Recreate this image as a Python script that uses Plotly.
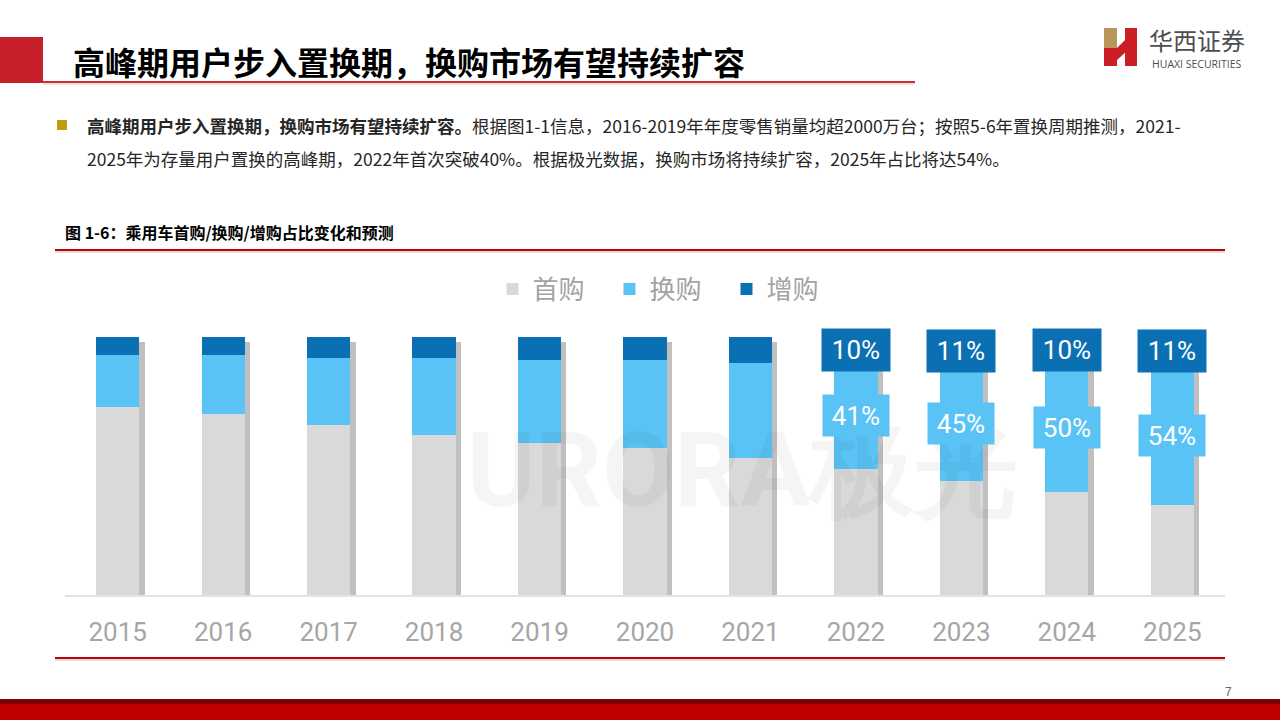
import plotly.graph_objects as go

# ---------------- data ----------------
years = ["2015", "2016", "2017", "2018", "2019", "2020", "2021", "2022", "2023", "2024", "2025"]
first_buy = [73, 70, 66, 62, 59, 57, 53, 49, 44, 40, 35]      # 首购 (%)
replace_buy = [20, 23, 26, 30, 32, 34, 37, 41, 45, 50, 54]    # 换购 (%)
add_buy = [7, 7, 8, 8, 9, 9, 10, 10, 11, 10, 11]              # 增购 (%)
labeled_years = ["2022", "2023", "2024", "2025"]
series_names = ["首购", "换购", "增购"]

title_text = "高峰期用户步入置换期，换购市场有望持续扩容"
bullet_bold = "高峰期用户步入置换期，换购市场有望持续扩容。"
bullet_rest1 = "根据图1-1信息，2016-2019年年度零售销量均超2000万台；按照5-6年置换周期推测，2021-"
bullet_line2 = "2025年为存量用户置换的高峰期，2022年首次突破40%。根据极光数据，换购市场将持续扩容，2025年占比将达54%。"
caption_text = "图 1-6：乘用车首购/换购/增购占比变化和预测"

# ---------------- styles ----------------
C_FIRST = "#d9d9d9"
C_REPL = "#5ac3f5"
C_ADD = "#0b70b3"
C_SHADOW = "#c0c0c0"
RED = "#c00000"
W, H = 1280, 720
BAR_W = 0.41
CJK = "Noto Sans CJK SC"


def px(x):
    return x / W


def py(y):
    return 1 - y / H


base_replace = first_buy
base_add = [a + b for a, b in zip(first_buy, replace_buy)]
totals = [a + b + c for a, b, c in zip(first_buy, replace_buy, add_buy)]
idx = list(range(len(years)))

fig = go.Figure()
# bar shadow strip
fig.add_trace(go.Bar(x=idx, y=[t - 2 for t in totals], base=[0] * len(years), width=0.05,
                     offset=BAR_W / 2, marker=dict(color=C_SHADOW, line=dict(width=0)),
                     showlegend=False, hoverinfo="skip"))
fig.add_trace(go.Bar(x=idx, y=first_buy, base=[0] * len(years), name=series_names[0],
                     width=BAR_W, offset=-BAR_W / 2, marker=dict(color=C_FIRST, line=dict(width=0))))
fig.add_trace(go.Bar(x=idx, y=replace_buy, base=base_replace, name=series_names[1],
                     width=BAR_W, offset=-BAR_W / 2, marker=dict(color=C_REPL, line=dict(width=0))))
fig.add_trace(go.Bar(x=idx, y=add_buy, base=base_add, name=series_names[2],
                     width=BAR_W, offset=-BAR_W / 2, marker=dict(color=C_ADD, line=dict(width=0))))

annotations = []
# watermark
annotations.append(dict(x=px(742), y=py(470), xref="paper", yref="paper", text="<b>URORA极光</b>",
                        xanchor="center", yanchor="middle", showarrow=False,
                        font=dict(family="Roboto", size=104, color="rgba(0,0,0,0.04)")))
# data labels on forecast years
for i, yr in enumerate(years):
    if yr in labeled_years:
        annotations.append(dict(x=i, y=base_add[i] + add_buy[i] / 2, xref="x", yref="y",
                                text=f"{add_buy[i]}%", showarrow=False, xanchor="center", yanchor="middle",
                                font=dict(family="Roboto", size=26, color="white"),
                                bgcolor=C_ADD, width=58, height=32, borderpad=5))
        annotations.append(dict(x=i, y=base_replace[i] + replace_buy[i] / 2, xref="x", yref="y",
                                text=f"{replace_buy[i]}%", showarrow=False, xanchor="center", yanchor="middle",
                                font=dict(family="Roboto", size=26, color="white"),
                                bgcolor=C_REPL, width=56, height=31, borderpad=5))

# slide texts
texts = [
    dict(x=px(72), y=py(61), text=f"<b>{title_text}</b>", font=dict(family=CJK, size=32, color="#000000")),
    dict(x=px(86), y=py(125), text=f"<b>{bullet_bold}</b>{bullet_rest1}",
         font=dict(family=CJK, size=17.5, color="#262626")),
    dict(x=px(86), y=py(158), text=bullet_line2, font=dict(family=CJK, size=17.5, color="#262626")),
    dict(x=px(64), y=py(232), text=f"<b>{caption_text}</b>", font=dict(family=CJK, size=16, color="#000000")),
    dict(x=px(1224), y=py(692), text="7", font=dict(family="Liberation Sans", size=12, color="#666666")),
    dict(x=px(1148), y=py(39), text="华西证券", font=dict(family=CJK, size=24, color="#4d4d4d")),
    dict(x=px(1151), y=py(64), text="HUAXI SECURITIES", font=dict(family="Open Sans", size=10.5, color="#4d4d4d")),
]
for a in texts:
    a.update(xref="paper", yref="paper", xanchor="left", yanchor="middle", showarrow=False, borderpad=0)
annotations += texts

shapes = [
    # red block next to title
    dict(type="rect", x0=px(0), x1=px(43), y0=py(83), y1=py(37), fillcolor="#c8202a", line=dict(width=0)),
    # title underline + shadow
    dict(type="line", x0=px(43), x1=px(915), y0=py(84), y1=py(84), line=dict(color="#e4e4e4", width=2)),
    dict(type="line", x0=px(43), x1=px(915), y0=py(82), y1=py(82), line=dict(color="#d42a30", width=2)),
    # bullet square
    dict(type="rect", x0=px(57), x1=px(67), y0=py(130), y1=py(120), fillcolor="#c19a12", line=dict(width=0)),
    # caption underline
    dict(type="line", x0=px(55), x1=px(1225), y0=py(252), y1=py(252), line=dict(color="#dedede", width=2)),
    dict(type="line", x0=px(55), x1=px(1225), y0=py(250), y1=py(250), line=dict(color=RED, width=2)),
    # chart bottom line
    dict(type="line", x0=px(55), x1=px(1225), y0=py(660), y1=py(660), line=dict(color="#dedede", width=2)),
    dict(type="line", x0=px(55), x1=px(1225), y0=py(658), y1=py(658), line=dict(color=RED, width=2)),
    # footer bars
    dict(type="rect", x0=0, x1=1, y0=py(704), y1=py(699), fillcolor="#7f0000", line=dict(width=0)),
    dict(type="rect", x0=0, x1=1, y0=0, y1=py(704), fillcolor=RED, line=dict(width=0)),
    # logo emblem
    dict(type="rect", x0=px(1104), x1=px(1117), y0=py(48), y1=py(28), fillcolor="#b8955a", line=dict(width=0)),
    dict(type="rect", x0=px(1104), x1=px(1117), y0=py(66), y1=py(48), fillcolor="#cc1e25", line=dict(width=0)),
    dict(type="rect", x0=px(1125), x1=px(1137), y0=py(66), y1=py(28), fillcolor="#cc1e25", line=dict(width=0)),
    dict(type="path",
         path=f"M {px(1117)},{py(48)} L {px(1137)},{py(28)} L {px(1137)},{py(42)} L {px(1117)},{py(60)} Z",
         fillcolor="#cc1e25", line=dict(width=0)),
]
for s in shapes:
    s["xref"] = "paper"
    s["yref"] = "paper"
    s["layer"] = "above"

fig.update_layout(
    width=W, height=H,
    margin=dict(l=0, r=0, t=0, b=0),
    paper_bgcolor="white", plot_bgcolor="white",
    barmode="overlay",
    bargap=0,
    showlegend=True,
    legend=dict(orientation="h", x=px(668), xanchor="center", y=py(289), yanchor="middle",
                font=dict(family=CJK, size=26, color="#a3a3a3"), traceorder="normal",
                entrywidth=72, itemclick=False, itemdoubleclick=False),
    xaxis=dict(domain=[px(65), px(1225)], range=[-0.5, len(years) - 0.5],
               tickmode="array", tickvals=idx, ticktext=years,
               showline=True, linecolor="#e3e3e3", linewidth=1.5, showgrid=False, zeroline=False,
               ticks="outside", ticklen=13, tickcolor="rgba(0,0,0,0)",
               tickfont=dict(family="Roboto", size=26, color="#a6a6a6")),
    yaxis=dict(domain=[py(595), py(337)], range=[0, 100], visible=False, showgrid=False),
    annotations=annotations,
    shapes=shapes,
)

fig.write_html("out.html", config={"displayModeBar": False},
               post_script="document.body.style.margin='0';document.body.style.overflow='hidden';")
